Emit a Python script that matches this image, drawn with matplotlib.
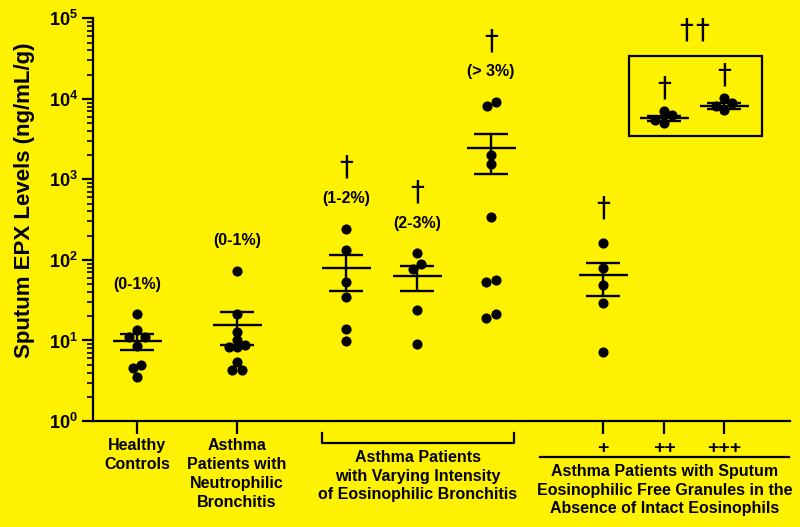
import numpy as np
import matplotlib.pyplot as plt
from matplotlib.patches import Rectangle
from matplotlib.transforms import blended_transform_factory

plt.rcParams['font.family'] = ['Liberation Sans', 'DejaVu Sans']
plt.rcParams['font.weight'] = 'bold'
plt.rcParams['mathtext.fontset'] = 'custom'
plt.rcParams['mathtext.bf'] = 'Liberation Sans:bold'
plt.rcParams['mathtext.rm'] = 'Liberation Sans:bold'

# ---- data (ng/mL/g) ----
healthy = [21.3, 13.3, 10.9, 10.9, 8.5, 4.6, 4.9, 3.55]
neutrophilic = [73.6, 21.3, 12.9, 10.1, 8.2, 8.2, 8.9, 5.4, 4.3, 4.3]
eos_1_2 = [243, 131, 53.7, 34.7, 13.8, 9.9]
eos_2_3 = [121, 89.1, 76.6, 24.1, 9.1]
eos_gt3 = [9250, 8260, 2010, 1560, 342, 56.9, 53.3, 21.3, 18.9]
efg_plus1 = [161, 78.9, 48.5, 29.5, 7.1]
efg_plus2 = [7100, 6330, 5440, 5040]
efg_plus3 = [10200, 8920, 8110, 7360]
groups = [healthy, neutrophilic, eos_1_2, eos_2_3, eos_gt3, efg_plus1, efg_plus2, efg_plus3]

group_means = [9.95, 15.7, 79.6, 63.2, 2440, 65.6, 5760, 8190]
sem_upper = [12.05, 22.6, 114, 84.2, 3640, 92.5, 6210, 8920]
sem_lower = [7.62, 8.8, 41.6, 40.8, 1150, 36.0, 5290, 7580]

pct_labels = ['(0-1%)', '(0-1%)', '(1-2%)', '(2-3%)', '(> 3%)', '', '', '']
significant = [False, False, True, True, True, True, True, True]
plus_labels = ['+', '++', '+++']
ytick_labels = [r'$\mathbf{10^{%d}}$' % i for i in range(6)]

cat_healthy = 'Healthy\nControls'
cat_neutro = 'Asthma\nPatients with\nNeutrophilic\nBronchitis'
cat_eos = 'Asthma Patients\nwith Varying Intensity\nof Eosinophilic Bronchitis'
cat_efg = 'Asthma Patients with Sputum\nEosinophilic Free Granules in the\nAbsence of Intact Eosinophils'
ylabel = 'Sputum EPX Levels (ng/mL/g)'

# ---- layout ----
xpos = [0.44, 1.44, 2.53, 3.24, 3.98, 5.10, 5.71, 6.31]
# small sideways shift of overlapping dots
jitter = [
    [0, 0, -0.077, 0.077, 0, -0.044, 0.043, 0],
    [0, 0, 0, 0, -0.083, 0, 0.083, 0, -0.047, 0.05],
    [0, 0, 0, 0, 0, 0],
    [0, 0.04, -0.04, 0, 0],
    [0.047, -0.037, 0, 0, 0, 0.05, -0.047, 0.05, -0.047],
    [0, 0, 0, 0, 0],
    [0, 0.084, -0.086, 0],
    [0, 0.08, -0.083, 0],
]
dagger_off = [0, 0, 44, 44, 43, 25, 16, 16]  # points above top dot

yellow = '#FFF200'
lw = 1.7

fig = plt.figure(figsize=(8, 5.27), dpi=100, facecolor=yellow)
ax = fig.add_axes([93 / 800, 1 - 421 / 527, (790 - 93) / 800, (421 - 18.3) / 527])
ax.set_facecolor(yellow)
ax.set_yscale('log')
ax.set_ylim(1, 1e5)
ax.set_xlim(0, 6.97)

for s in ['top', 'right']:
    ax.spines[s].set_visible(False)
for s in ['left', 'bottom']:
    ax.spines[s].set_linewidth(1.6)

ax.set_yticks([10 ** i for i in range(6)])
ax.set_yticklabels(ytick_labels)
ax.tick_params(axis='y', which='major', length=8, width=1.6, labelsize=13, pad=3)
ax.tick_params(axis='y', which='minor', length=4, width=1.2)
ax.set_xticks([xpos[0], xpos[1], xpos[5], xpos[6], xpos[7]])
ax.set_xticklabels([])
ax.tick_params(axis='x', which='major', length=9, width=1.6)
ax.tick_params(axis='x', which='minor', length=0)

# mean +/- SEM and dots
for i, vals in enumerate(groups):
    x = xpos[i]
    ax.vlines(x, sem_lower[i], sem_upper[i], color='black', lw=lw)
    ax.hlines(group_means[i], x - 0.245, x + 0.245, color='black', lw=lw)
    ax.hlines([sem_lower[i], sem_upper[i]], x - 0.17, x + 0.17, color='black', lw=lw)
    ax.plot(x + np.array(jitter[i]), vals, 'o', color='black', ms=6.3, zorder=3)

    top = max(vals)
    if pct_labels[i]:
        ax.annotate(pct_labels[i], (x, top), xytext=(0, 21.6), textcoords='offset points',
                    ha='center', va='center', fontsize=11.5)
    if significant[i]:
        ax.annotate('\u2020', (x, top), xytext=(0, dagger_off[i]), textcoords='offset points',
                    ha='center', va='center', fontsize=20, family='DejaVu Sans',
                    fontweight='normal')

# box round the ++ / +++ groups and the double dagger
ax.add_patch(Rectangle((5.357, 3470), 6.69 - 5.357, 34200 - 3470, fill=False,
                       lw=1.6, edgecolor='black'))
for dx in [-8, 8]:
    ax.annotate('\u2020', ((xpos[6] + xpos[7]) / 2, 34200), xytext=(dx * 0.72, 18),
                textcoords='offset points', ha='center', va='center', fontsize=20,
                family='DejaVu Sans', fontweight='normal')

# ---- annotations below the x axis ----
ax_h = ax.get_position().height * fig.get_figheight() * fig.dpi
trans = blended_transform_factory(ax.transData, ax.transAxes)


def below(px):
    return -px / ax_h


def label_below(text, x, px, size=11.5):
    ax.text(x, below(px), text, transform=trans, ha='center', va='center',
            fontsize=size, linespacing=1.32, clip_on=False)


# bracket for eosinophilic groups
bx0, bx1 = 2.29, 4.21
ax.plot([bx0, bx0, bx1, bx1], [below(12), below(22), below(22), below(12)],
        color='black', lw=1.6, transform=trans, clip_on=False)
# line under the + signs
ax.plot([4.47, 6.96], [below(36), below(36)], color='black', lw=1.6,
        transform=trans, clip_on=False)
for p, x in zip(plus_labels, xpos[5:]):
    label_below(p, x, 27, size=14)

label_below(cat_healthy, xpos[0], 34)
label_below(cat_neutro, xpos[1], 53)
label_below(cat_eos, (bx0 + bx1) / 2, 55)
label_below(cat_efg, 5.72, 69)

fig.text(25 / 800, 1 - 200 / 527, ylabel, rotation=90, ha='center', va='center',
         fontsize=16)

fig.savefig('out.png', dpi=100, facecolor=yellow)
